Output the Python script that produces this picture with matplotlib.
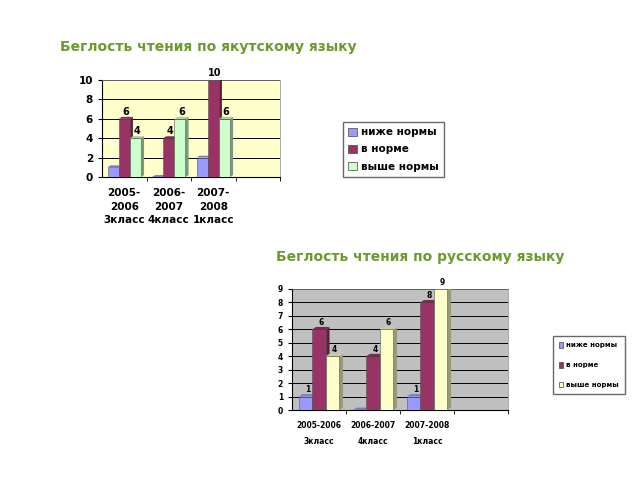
import matplotlib.pyplot as plt
import numpy as np

# данные
series = ['ниже нормы', 'в норме', 'выше нормы']
yak_labels = ['2005-\n2006\n3класс', '2006-\n2007\n4класс', '2007-\n2008\n1класс', '']
yak_low = [1, 0, 2]
yak_norm = [6, 4, 10]
yak_high = [4, 6, 6]

rus_labels = ['2005-2006\n3класс', '2006-2007\n4класс', '2007-2008\n1класс', '']
rus_low = [1, 0, 1]
rus_norm = [6, 4, 8]
rus_high = [4, 6, 9]

blue = '#9999ff'
purple = '#993366'
title_col = '#6b9b2e'


def shade(c, k=0.6):
    r, g, b = plt.matplotlib.colors.to_rgb(c)
    return (r * k, g * k, b * k)


def draw(ax, vals, colors, labels, ymax, step, bg, fs, lfs, show, ls, pad):
    ax.set_facecolor(bg)
    x = np.arange(len(vals[0]))
    w = 0.25
    d = 0.07
    dy = ymax * 0.02
    for i, (v, c) in enumerate(zip(vals, colors)):
        bars = ax.bar(x + (i - 1) * w, v, w, color=c, edgecolor='#555555', linewidth=0.4, zorder=3)
        for b, val in zip(bars, v):
            x0, x1, h = b.get_x(), b.get_x() + b.get_width(), b.get_height()
            ax.fill([x1, x1 + d, x1 + d, x1], [0, dy, h + dy, h], color=shade(c), zorder=2.9, lw=0)
            ax.fill([x0, x0 + d, x1 + d, x1], [h, h + dy, h + dy, h], color=shade(c, 0.8), zorder=3, lw=0)
            if val > 0 and show[i]:
                ax.text(b.get_x() + w / 2 + d / 2, h + dy, str(val), ha='center', va='bottom',
                        fontsize=lfs, fontweight='bold', zorder=4)
    ax.set_xlim(-0.5, 3.5)
    ax.set_ylim(0, ymax)
    ax.set_yticks(np.arange(0, ymax + 1, step))
    ax.set_xticks(np.arange(4) + 0.5, minor=True)
    ax.set_xticks(np.arange(4))
    ax.set_xticklabels(labels, fontsize=fs, fontweight='bold', linespacing=ls)
    ax.tick_params(axis='x', which='major', length=0, pad=pad)
    ax.tick_params(axis='x', which='minor', length=3)
    ax.tick_params(axis='y', labelsize=fs, length=3)
    for lab in ax.get_yticklabels():
        lab.set_fontweight('bold')
    ax.yaxis.grid(True, color='black', linewidth=0.7, zorder=0)
    ax.set_axisbelow(True)
    for s in ['top', 'right']:
        ax.spines[s].set_color('#888888')
        ax.spines[s].set_linewidth(0.5)


fig = plt.figure(figsize=(6.4, 4.8), dpi=100)
fig.patch.set_facecolor('white')

fig.text(60 / 640, 1 - 47 / 480, 'Беглость чтения по якутскому языку', fontsize=10,
         fontweight='bold', color=title_col, va='center')
fig.text(276 / 640, 1 - 257 / 480, 'Беглость чтения по русскому языку', fontsize=10,
         fontweight='bold', color=title_col, va='center')

ax1 = fig.add_axes([102 / 640, 1 - 177 / 480, 178 / 640, 97 / 480])
draw(ax1, [yak_low, yak_norm, yak_high], [blue, purple, '#ccffcc'], yak_labels,
     10, 2, '#ffffcc', 7.5, 7, [False, True, True], 1.45, 8)
h1 = [plt.Rectangle((0, 0), 1, 1, fc=c, ec='#444444', lw=0.5) for c in [blue, purple, '#ccffcc']]
fig.legend(h1, series, loc='upper left', bbox_to_anchor=(343 / 640, 1 - 122 / 480),
           prop={'size': 7.5, 'weight': 'bold'}, frameon=True, fancybox=False,
           edgecolor='#444444', handlelength=0.8, handleheight=0.8, handletextpad=0.4,
           labelspacing=0.7, borderpad=0.5, borderaxespad=0)

ax2 = fig.add_axes([292 / 640, 1 - 410 / 480, 216 / 640, 121 / 480])
draw(ax2, [rus_low, rus_norm, rus_high], [blue, purple, '#ffffcc'], rus_labels,
     9, 1, '#c0c0c0', 5.5, 5.5, [True, True, True], 2.0, 8)
h2 = [plt.Rectangle((0, 0), 1, 1, fc=c, ec='#444444', lw=0.5) for c in [blue, purple, '#ffffcc']]
fig.legend(h2, series, loc='upper left', bbox_to_anchor=(553 / 640, 1 - 336 / 480),
           prop={'size': 5, 'weight': 'bold'}, frameon=True, fancybox=False,
           edgecolor='#444444', handlelength=0.6, handleheight=0.8, handletextpad=0.3,
           labelspacing=2.0, borderpad=0.9, borderaxespad=0)

fig.savefig('out.png', dpi=100)
